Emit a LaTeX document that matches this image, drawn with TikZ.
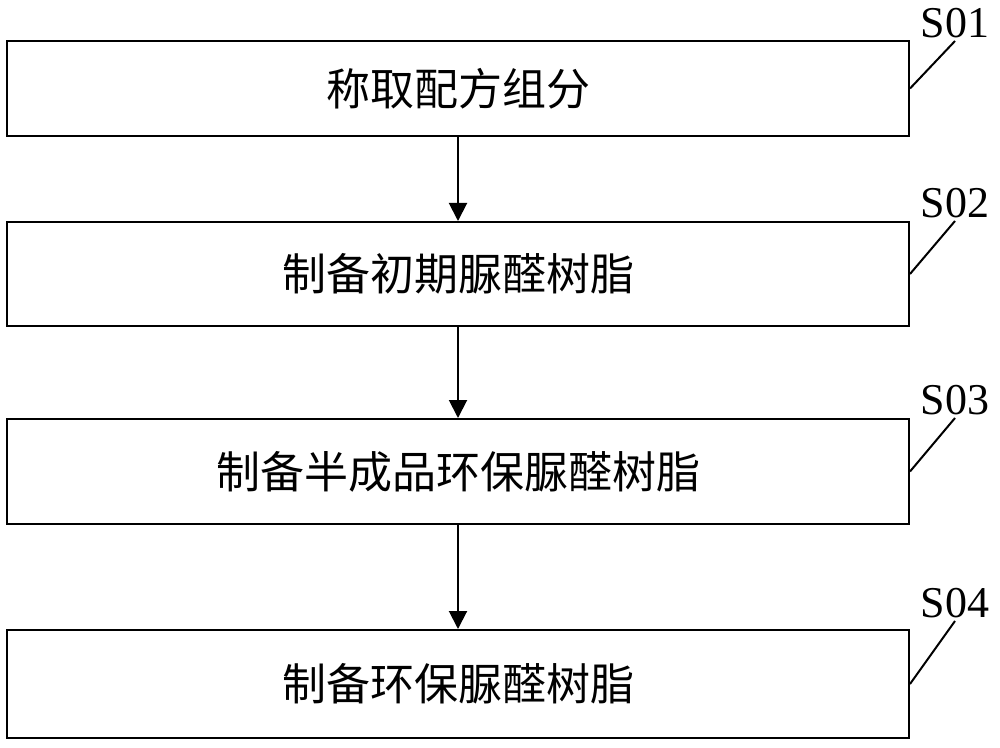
\documentclass[tikz,border=0pt]{standalone}
\usepackage{fontspec}
\setmainfont{Liberation Serif}
\newfontfamily\cjk{Noto Sans CJK SC}
\usetikzlibrary{arrows.meta}
\tikzset{
  stepbox/.style={draw, line width=1pt, minimum width=451pt, inner sep=0pt,
    font=\cjk\fontsize{22}{26}\selectfont},
  steplabel/.style={inner sep=1.5pt, font=\fontsize{22}{26}\selectfont},
  flow/.style={line width=1pt, -{Triangle[width=9pt,length=9pt]}},
  leader/.style={line width=1pt}
}
\begin{document}
\begin{tikzpicture}[x=0.5pt, y=-0.5pt]
  \useasboundingbox (0,0) rectangle (1000,748);
  % steps
  \node[stepbox, minimum height=47.5pt] (b1) at (458,88.5) {称取配方组分};
  \node[stepbox, minimum height=52pt] (b2) at (458,274) {制备初期脲醛树脂};
  \node[stepbox, minimum height=52.5pt] (b3) at (458,471.5) {制备半成品环保脲醛树脂};
  \node[stepbox, minimum height=54pt] (b4) at (458,684) {制备环保脲醛树脂};
  % labels
  \node[steplabel, anchor=south] (l1) at (955,41) {S01};
  \node[steplabel, anchor=south] (l2) at (955,221) {S02};
  \node[steplabel, anchor=south] (l3) at (955,418) {S03};
  \node[steplabel, anchor=south] (l4) at (955,621) {S04};
  \draw[leader] (b1.east)--(l1.south);
  \draw[leader] (b2.east)--(l2.south);
  \draw[leader] (b3.east)--(l3.south);
  \draw[leader] (b4.east)--(l4.south);
  % arrows
  \draw[flow] (b1)--(b2);
  \draw[flow] (b2)--(b3);
  \draw[flow] (b3)--(b4);
\end{tikzpicture}
\end{document}
